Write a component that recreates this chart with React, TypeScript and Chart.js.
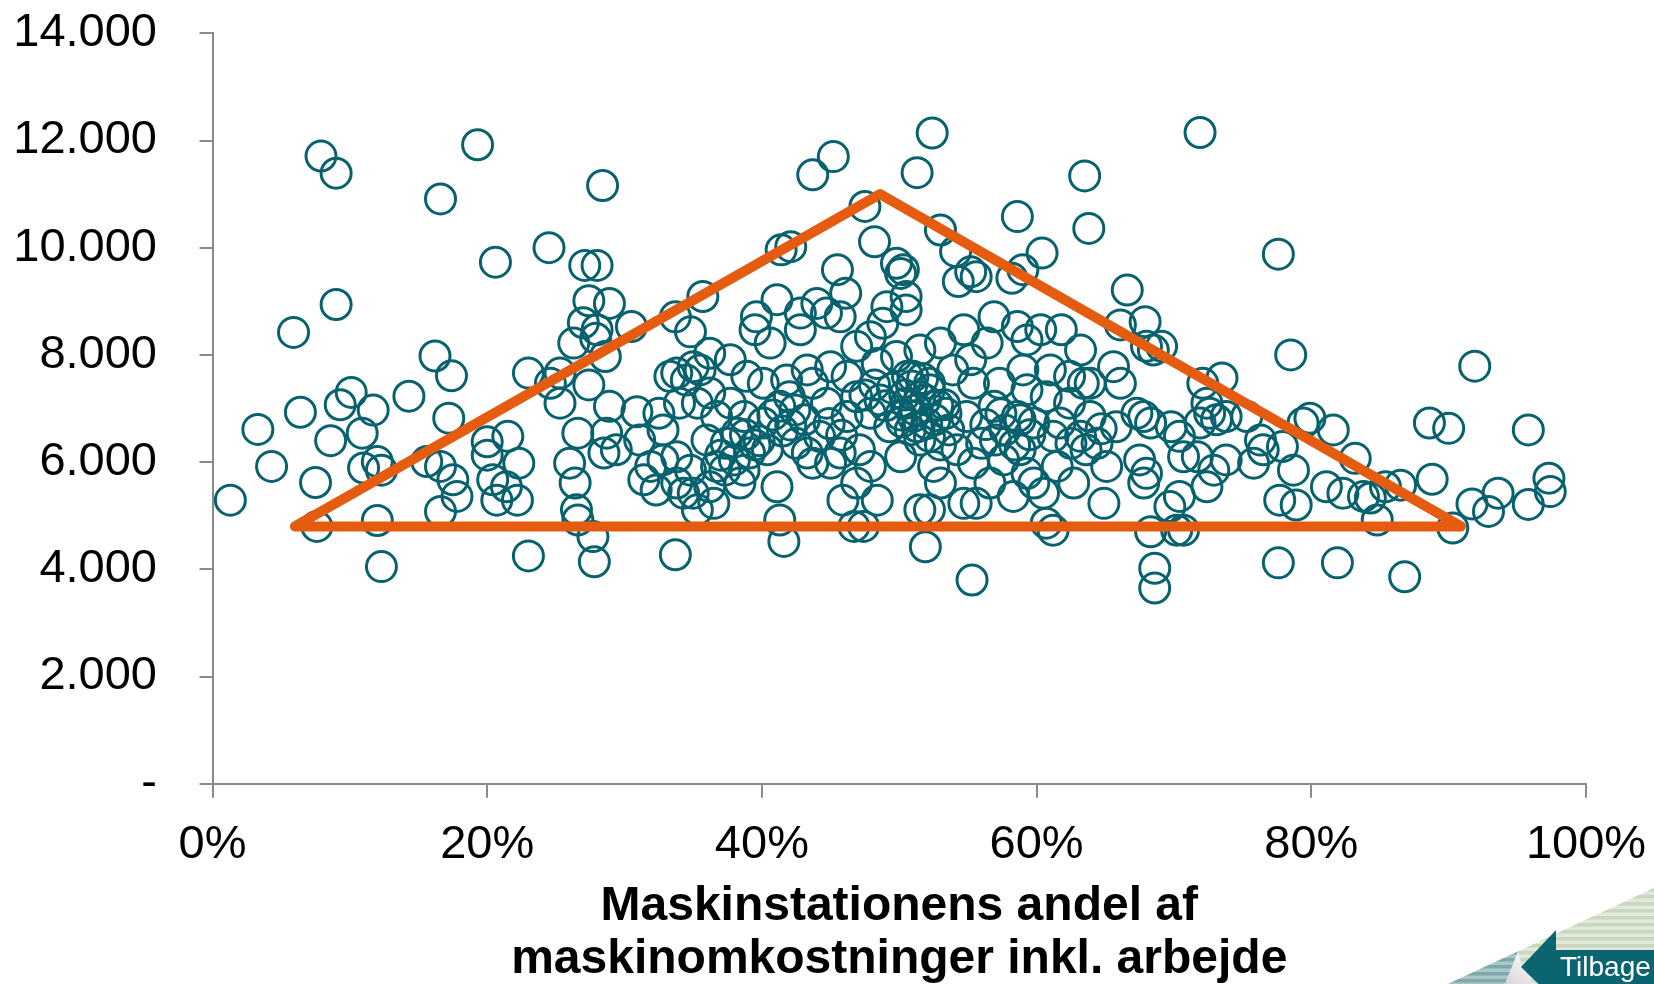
import React, { useEffect, useRef } from "react";
import { Chart, registerables } from "chart.js";

Chart.register(...registerables);

// x = maskinstationens andel (%), y = omkostning (kr.)
const OBS_LEFT: [number, number][] = [
  [7.9, 11710], [9.0, 11390], [19.3, 11920], [16.6, 10910], [28.4, 11160], [24.5, 10000],
  [20.6, 9730], [27.1, 9670], [28.0, 9670], [9.0, 8940], [5.9, 8420], [27.4, 9010],
  [28.9, 8960], [30.5, 8530], [27.0, 8600], [26.3, 8220], [27.9, 8310], [28.0, 8470],
  [28.6, 7970], [27.4, 7440], [25.3, 7660], [24.6, 7470], [23.0, 7660], [16.2, 7980],
  [17.4, 7610], [25.3, 7100], [10.1, 7300], [9.3, 7070], [6.4, 6930], [11.7, 6970],
  [14.3, 7230], [17.2, 6820], [3.3, 6610], [4.3, 5920], [8.6, 6400], [10.9, 6540],
  [1.3, 5290], [7.5, 5620], [7.6, 4800], [12.0, 6010], [12.3, 5850], [11.0, 5890],
  [12.0, 4910], [12.3, 4050], [15.6, 6010], [16.6, 5920], [17.5, 5670], [16.6, 5080],
  [20.0, 6380], [21.5, 6480], [20.0, 6130], [20.4, 5670], [21.4, 5540], [22.3, 5980],
  [20.7, 5290], [22.2, 5290], [17.8, 5360], [23.0, 4250], [26.0, 5980], [26.4, 5610],
  [26.5, 5110], [26.6, 4920], [27.7, 4610], [27.8, 4140], [26.6, 6540], [28.9, 7040],
  [28.7, 6540], [28.5, 6170], [29.4, 6230], [30.9, 6940], [32.5, 6910], [33.7, 4270],
  [33.8, 7660], [33.7, 8710], [35.3, 5110],
  [34.8, 8430], [33.3, 7600], [34.5, 7530], [35.0, 7780], [34.0, 7100], [35.3, 7100],
  [31.1, 6410], [32.8, 6600], [32.8, 6040], [33.8, 6100], [31.9, 5920], [31.4, 5670],
  [32.3, 5480], [33.8, 5610], [34.8, 5850], [35.0, 5420], [34.3, 5420],
];

const OBS_CENTRE_LEFT: [number, number][] = [
  [43.7, 11360], [41.4, 9960], [42.1, 10020], [35.7, 9090], [39.6, 8710], [41.1, 9030],
  [39.5, 8470], [40.6, 8220], [42.8, 8780], [44.0, 8960], [42.8, 8470], [37.7, 7910],
  [36.2, 8030], [35.5, 7720], [38.9, 7600], [40.1, 7470], [41.8, 7530], [43.3, 7720],
  [43.7, 7470], [36.2, 7290], [37.7, 7100], [36.7, 6850], [38.7, 6850], [40.1, 6730],
  [41.3, 7040], [36.0, 6410], [37.4, 6350], [38.2, 6540], [39.1, 6170], [40.4, 6230],
  [42.5, 6350], [43.3, 6170], [43.7, 5980], [36.7, 5920], [38.7, 5850], [36.2, 5540],
  [38.4, 5610], [41.1, 5540], [36.5, 5230], [41.3, 4920], [41.6, 4520],
  [37.0, 6130], [38.0, 6040], [39.5, 6320], [37.3, 5850], [38.8, 6510],
  [42.4, 6970], [43.1, 6790], [42.1, 6690],
  [41.5, 6580], [40.8, 6880], [42.0, 7220], [39.8, 6400],
];

const OBS_CENTRE: [number, number][] = [
  [51.3, 11400], [45.2, 11700], [52.4, 12140], [47.5, 10770], [48.2, 10110], [58.6, 10580],
  [53.0, 10330], [54.1, 9930], [54.3, 9370], [55.2, 9550], [55.6, 9460], [58.2, 9430],
  [59.0, 9590], [45.5, 9590], [49.8, 9710], [50.3, 9590], [50.1, 9520], [46.1, 9150],
  [44.7, 8780], [45.7, 8710], [49.1, 8900], [50.5, 9090], [50.5, 8840], [56.9, 8710],
  [54.7, 8470], [58.6, 8530], [59.3, 8280], [56.4, 8220], [47.9, 8340], [46.9, 8160],
  [48.8, 8590], [51.5, 8090], [53.0, 8220], [45.0, 7780], [46.2, 7600], [48.4, 7840],
  [49.8, 7970], [51.0, 7600], [52.2, 7470], [51.5, 7220], [50.5, 7100], [53.9, 7720],
  [55.2, 7910], [55.4, 7470], [57.3, 7470], [59.0, 7720], [59.3, 7350], [56.9, 7040],
  [58.6, 6850], [59.8, 6730], [53.4, 6910], [54.9, 6850], [44.7, 7100], [46.9, 7220],
  [46.2, 6850], [47.9, 6910], [49.3, 6660], [51.3, 6660], [52.2, 6480], [44.2, 6480],
  [45.7, 6170], [45.0, 5980], [47.1, 6230], [47.9, 5920], [50.1, 6100], [52.5, 5920],
  [53.0, 5610], [54.2, 6230], [55.4, 5980], [56.6, 5610], [57.6, 6040], [58.8, 6230],
  [59.3, 5790], [58.3, 5360], [45.9, 5290], [48.4, 5290], [46.9, 5610], [51.5, 5110],
  [52.2, 5110], [47.4, 4800], [46.7, 4800], [51.9, 4420], [55.3, 3800], [55.6, 5230],
  [54.7, 5230], [59.8, 5610],
  [50.4, 7250], [51.2, 6970], [51.9, 7160], [52.6, 6790], [50.8, 6600], [53.3, 7070],
  [51.5, 6410], [50.1, 6880], [52.2, 7350], [53.0, 6320], [57.7, 6600], [58.4, 6320],
  [58.8, 6790], [57.0, 6410], [59.5, 6510], [48.2, 7440], [48.6, 7160], [47.5, 7250],
  [49.5, 7380], [50.9, 7420], [51.7, 7560], [52.8, 7060], [50.2, 6750], [51.0, 6850],
  [52.0, 6720], [49.0, 7050], [53.6, 6600], [50.6, 7600], [56.3, 6700], [57.4, 6900],
  [56.0, 6350], [45.8, 6500], [44.9, 6720],
];

const OBS_CENTRE_RIGHT: [number, number][] = [
  [63.5, 11340], [63.8, 10360], [60.4, 9900], [66.6, 9210], [66.1, 8560], [67.9, 8620],
  [68.0, 8160], [68.5, 8090], [69.1, 8160], [61.8, 8470], [63.2, 8090], [60.3, 8470],
  [65.6, 7780], [66.1, 7470], [63.9, 7470], [63.4, 7470], [62.4, 7600], [61.0, 7720],
  [60.7, 7220], [62.4, 7100], [63.9, 6850], [61.7, 6730], [61.2, 6480], [63.2, 6480],
  [64.4, 6350], [65.8, 6660], [67.3, 6910], [67.8, 6850], [68.3, 6730], [69.8, 6660],
  [70.4, 6480], [72.1, 7470], [73.5, 7570], [72.4, 7100], [72.6, 6910], [73.1, 6790],
  [71.9, 6730], [73.8, 6850], [75.3, 6850], [76.3, 6410], [75.8, 5980], [73.8, 6040],
  [72.9, 5850], [71.7, 6100], [72.4, 5540], [67.5, 6040], [68.0, 5790], [67.8, 5610],
  [65.1, 5920], [64.9, 5230], [62.7, 5610], [61.5, 5920], [60.5, 5420], [61.2, 4730],
  [60.7, 4860], [70.4, 5360], [69.7, 5170], [70.7, 4730], [70.2, 4730], [68.3, 4700],
  [68.6, 4020], [68.6, 3650], [70.7, 6100],
  [63.6, 6230], [64.7, 6620], [62.5, 6350],
];

const OBS_RIGHT: [number, number][] = [
  [71.9, 12150], [77.6, 9880], [78.5, 8000], [91.9, 7790], [79.4, 6730], [79.9, 6820],
  [81.6, 6600], [77.9, 6290], [76.5, 6230], [78.7, 5850], [81.1, 5540], [82.3, 5420],
  [83.2, 6070], [85.4, 5540], [86.5, 5570], [84.3, 5330], [84.8, 4920], [88.8, 5680],
  [77.7, 5290], [78.9, 5200], [83.8, 5360], [88.6, 6730], [90.0, 6630], [95.8, 6600],
  [91.7, 5220], [92.9, 5080], [93.6, 5420], [95.8, 5210], [97.3, 5700], [97.4, 5450],
  [90.3, 4770], [77.6, 4120], [81.9, 4120], [86.8, 3860],
];

const TRIANGLE_X = [6.0, 48.6, 90.9, 6.0];
const TRIANGLE_Y = [4800, 11000, 4800, 4800];

const X_MIN = 0;
const X_MAX = 100;
const X_STEP = 20;
const Y_MIN = 0;
const Y_MAX = 14000;
const Y_STEP = 2000;

const X_TITLE = ["Maskinstationens andel af", "maskinomkostninger inkl. arbejde"];
const BUTTON_LABEL = "Tilbage";

const FONT = "'Liberation Sans', Arial, sans-serif";
const TEAL = "#07626E";
const ORANGE = "#E55C10";
const AXIS_GREY = "#8A8A8A";

function formatThousands(v: number): string {
  if (v === 0) return "-";
  return String(Math.round(v)).replace(/\B(?=(\d{3})+(?!\d))/g, ".");
}

const tilbagePlugin = {
  id: "tilbage",
  afterDraw(chart: any) {
    const ctx: CanvasRenderingContext2D = chart.ctx;
    const W = chart.width;
    const H = chart.height;
    const x0 = W - 206;
    const yTop = H - 96;
    const diag = (x: number) => H - (x - x0) * (96 / 206);
    ctx.save();
    ctx.beginPath();
    ctx.moveTo(x0, H);
    ctx.lineTo(W, yTop);
    ctx.lineTo(W, H);
    ctx.closePath();
    ctx.save();
    ctx.clip();
    ctx.fillStyle = "#E1E9DB";
    ctx.fillRect(x0, yTop, 206, 96);
    ctx.fillStyle = "#C9D7BF";
    for (let y = yTop; y < H; y += 7) ctx.fillRect(x0, y, 206, 3.5);
    ctx.restore();
    const fx = x0 + 70;
    ctx.beginPath();
    ctx.moveTo(x0, H);
    ctx.lineTo(fx, diag(fx));
    ctx.lineTo(fx - 13, H);
    ctx.closePath();
    ctx.save();
    ctx.clip();
    ctx.fillStyle = "#A9C6C8";
    ctx.fillRect(x0, yTop, 206, 96);
    ctx.fillStyle = "#7FA8AD";
    for (let y = yTop; y < H; y += 7) ctx.fillRect(x0, y, 206, 3.5);
    ctx.restore();
    ctx.beginPath();
    ctx.moveTo(fx - 13, H);
    ctx.lineTo(fx, diag(fx));
    ctx.lineTo(fx + 4, H - 18);
    ctx.lineTo(fx + 16, H);
    ctx.closePath();
    const g = ctx.createLinearGradient(fx - 13, H, fx + 10, H - 30);
    g.addColorStop(0, "#D6D6D6");
    g.addColorStop(1, "#FAFAFA");
    ctx.fillStyle = g;
    ctx.fill();
    const tipX = fx + 3;
    const tipY = H - 17;
    const headX = tipX + 35;
    ctx.beginPath();
    ctx.moveTo(tipX, tipY);
    ctx.lineTo(headX, tipY - 37);
    ctx.lineTo(headX, H - 34);
    ctx.lineTo(W, H - 34);
    ctx.lineTo(W, H);
    ctx.lineTo(tipX + 17.5, H);
    ctx.closePath();
    ctx.fillStyle = "#0A6570";
    ctx.fill();
    ctx.fillStyle = "#FFFFFF";
    ctx.font = `28px ${FONT}`;
    ctx.textBaseline = "alphabetic";
    ctx.textAlign = "left";
    ctx.fillText(BUTTON_LABEL, headX + 4, H - 8);
    ctx.restore();
  },
};

export default function App() {
  const canvasRef = useRef<HTMLCanvasElement | null>(null);

  useEffect(() => {
    const canvas = canvasRef.current;
    if (!canvas) return;
    const all = [...OBS_LEFT, ...OBS_CENTRE_LEFT, ...OBS_CENTRE, ...OBS_CENTRE_RIGHT, ...OBS_RIGHT];
    const points = all.map(([x, y]) => ({ x, y }));
    const triangle = TRIANGLE_X.map((x, i) => ({ x, y: TRIANGLE_Y[i] }));

    const chart = new Chart(canvas, {
      type: "scatter",
      data: {
        datasets: [
          {
            type: "line",
            data: triangle,
            borderColor: ORANGE,
            borderWidth: 10,
            pointRadius: 0,
            fill: false,
            tension: 0,
            borderCapStyle: "round",
            borderJoinStyle: "round",
          } as any,
          {
            data: points,
            pointStyle: "circle",
            pointRadius: 15,
            pointBorderWidth: 3,
            pointBorderColor: TEAL,
            pointBackgroundColor: "rgba(0,0,0,0)",
            borderColor: TEAL,
            backgroundColor: "rgba(0,0,0,0)",
          } as any,
        ],
      },
      options: {
        animation: false,
        responsive: false,
        maintainAspectRatio: false,
        events: [],
        layout: { padding: { top: 33.3, right: 68, left: 0, bottom: 0 } },
        plugins: { legend: { display: false }, tooltip: { enabled: false } },
        scales: {
          x: {
            type: "linear",
            min: X_MIN,
            max: X_MAX,
            ticks: {
              stepSize: X_STEP,
              callback: (v: any) => `${v}%`,
              font: { family: FONT, size: 47 },
              color: "#000",
              padding: 19,
              maxRotation: 0,
              autoSkip: false,
            },
            grid: { drawOnChartArea: false, drawTicks: true, tickLength: 14, color: AXIS_GREY, lineWidth: 2 },
            border: { color: AXIS_GREY, width: 2 },
            title: {
              display: true,
              text: X_TITLE,
              color: "#000",
              font: { family: FONT, size: 48, weight: "bold", lineHeight: 1.1 },
              padding: { top: 0, bottom: -2 },
            },
            afterFit: (s: any) => {
              s.height = 200.3;
              s.paddingLeft = 20;
              s.paddingRight = 20;
            },
          },
          y: {
            type: "linear",
            min: Y_MIN,
            max: Y_MAX,
            ticks: {
              stepSize: Y_STEP,
              callback: (v: any) => formatThousands(Number(v)),
              font: { family: FONT, size: 47 },
              color: "#000",
              padding: 42.5,
            },
            grid: { drawOnChartArea: false, drawTicks: true, tickLength: 13, color: AXIS_GREY, lineWidth: 2 },
            border: { color: AXIS_GREY, width: 2 },
            afterFit: (s: any) => {
              s.width = 212.5;
              s.paddingTop = 20;
              s.paddingBottom = 20;
            },
          },
        },
      } as any,
      plugins: [tilbagePlugin],
    });
    return () => chart.destroy();
  }, []);

  return (
    <div style={{ position: "absolute", left: 0, top: 0, width: 1654, height: 984, background: "#fff" }}>
      <canvas ref={canvasRef} width={1654} height={984} style={{ display: "block", width: 1654, height: 984 }} />
    </div>
  );
}
